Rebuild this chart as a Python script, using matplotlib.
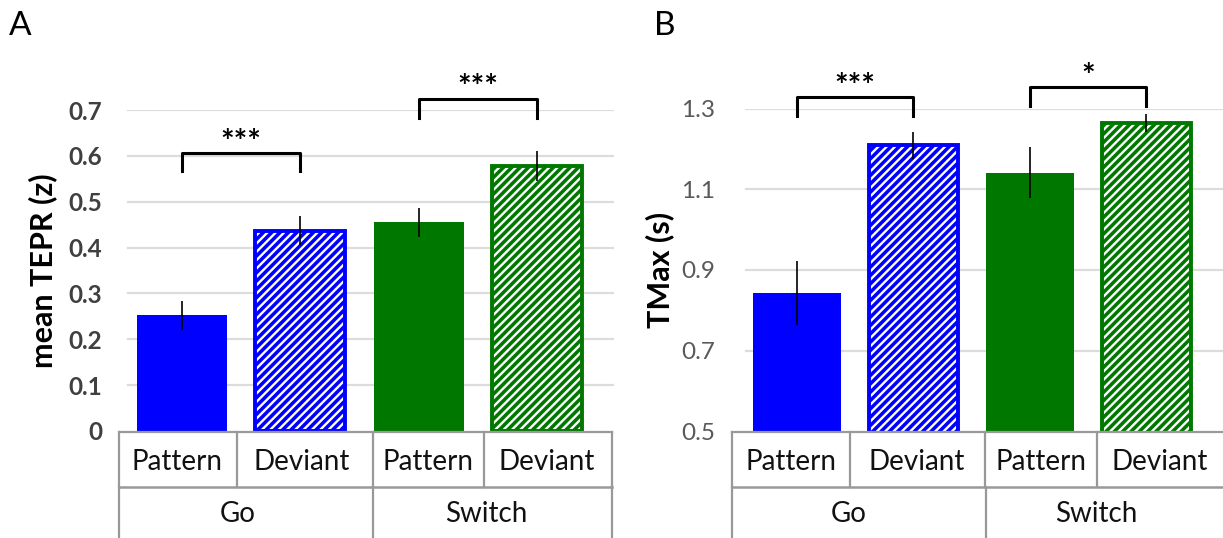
import numpy as np
import matplotlib
matplotlib.use('Agg')
import matplotlib.pyplot as plt

plt.rcParams['font.family'] = ['Lato', 'DejaVu Sans']
plt.rcParams['hatch.linewidth'] = 1.7
plt.rcParams['hatch.color'] = 'white'

# data
conditions = ['Pattern', 'Deviant', 'Pattern', 'Deviant']
groups = ['Go', 'Switch']
bar_colors = ['#0000ff', '#0000ff', '#007800', '#007800']
hatched = [False, True, False, True]

tepr_mean = [0.252, 0.437, 0.455, 0.578]
tepr_err = [0.032, 0.032, 0.031, 0.033]
tepr_ticks = [0, 0.1, 0.2, 0.3, 0.4, 0.5, 0.6, 0.7]
tepr_tick_labels = ['0', '0.1', '0.2', '0.3', '0.4', '0.5', '0.6', '0.7']
tepr_sig = [(0, 1, '***'), (2, 3, '***')]

tmax_mean = [0.843, 1.210, 1.142, 1.266]
tmax_err = [0.080, 0.033, 0.063, 0.022]
tmax_ticks = [0.5, 0.7, 0.9, 1.1, 1.3]
tmax_tick_labels = ['0.5', '0.7', '0.9', '1.1', '1.3']
tmax_sig = [(0, 1, '***'), (2, 3, '*')]

W, H = 1223, 538


def px_axes(fig, left, top, right, bottom):
    return fig.add_axes([left / W, 1 - bottom / H, (right - left) / W, (bottom - top) / H])


def bar_panel(ax, means, errs, xlim, ylim, ticks, tick_labels, ylabel,
              tick_color, tick_weight, grid_start, brackets):
    x = np.arange(len(means))
    ax.set_xlim(*xlim)
    ax.set_ylim(*ylim)
    for t in ticks[1:]:
        ax.axhline(t, xmin=grid_start, xmax=1, color='#dcdcdc', lw=1.6, zorder=0)
    bars = ax.bar(x, means, width=0.76, color=bar_colors, edgecolor='white',
                  linewidth=0, zorder=2)
    for b, h in zip(bars, hatched):
        if h:
            b.set_hatch('////')
    # outline of the hatched bars
    ax.bar(x[hatched], np.array(means)[hatched], width=0.76, fill=False,
           edgecolor=np.array(bar_colors)[hatched], linewidth=2.8, zorder=3)
    ax.errorbar(x, means, yerr=errs, fmt='none', ecolor='black',
                elinewidth=1.2, capsize=0, zorder=4)
    span = ylim[1] - ylim[0]
    for i0, i1, top, legs, stars in brackets:
        ax.plot([i0, i0, i1, i1], [legs, top, top, legs], color='black',
                lw=2.2, clip_on=False, zorder=5)
        ax.text((i0 + i1) / 2, top + span * 0.03, stars,
                ha='center', va='center', fontsize=23, fontweight='bold',
                clip_on=False)
    ax.set_yticks(ticks)
    ax.set_yticklabels(tick_labels, fontsize=17.5, color=tick_color,
                       fontweight=tick_weight)
    ax.tick_params(axis='y', length=0, pad=12)
    ax.set_xticks([])
    for s in ax.spines.values():
        s.set_visible(False)
    ax.set_ylabel(ylabel, fontsize=22, fontweight='bold', color='black')


def table(ov, cols, group_cols, text_x, group_x):
    gray = '#999999'
    top, mid, bottom = 432, 487, 545
    left, right = cols[0], cols[-1]
    ov.plot([left, right], [top, top], color=gray, lw=1.6)
    ov.plot([left, right], [mid, mid], color=gray, lw=1.8)
    for c in cols:
        ov.plot([c, c], [top, mid], color=gray, lw=1.6)
    for c in group_cols:
        ov.plot([c, c], [mid, bottom], color=gray, lw=1.6)
    for tx, lab in zip(text_x, conditions):
        ov.text(tx, 462, lab, ha='center', va='center', fontsize=20, color='#111111')
    for tx, lab in zip(group_x, groups):
        ov.text(tx, 514, lab, ha='center', va='center', fontsize=20, color='#111111')


fig = plt.figure(figsize=(W / 100, H / 100), dpi=100)

ax_a = px_axes(fig, 119, 110, 614, 431)
bar_panel(ax_a, tepr_mean, tepr_err, (-0.533, 3.652), (0, 0.7),
          tepr_ticks, tepr_tick_labels, 'mean TEPR (z)', '#404040', 'bold', 0.018,
          [(0, 1, 0.606, 0.566, tepr_sig[0][2]), (2, 3, 0.725, 0.682, tepr_sig[1][2])])
ax_a.yaxis.set_label_coords(-0.125, 0.5)

ax_b = px_axes(fig, 732, 109, 1223, 431)
bar_panel(ax_b, tmax_mean, tmax_err, (-0.558, 3.657), (0.5, 1.3),
          tmax_ticks, tmax_tick_labels, 'TMax (s)', '#595959', 'normal', 0.029,
          [(0, 1, 1.330, 1.283, tmax_sig[0][2]), (2, 3, 1.355, 1.308, tmax_sig[1][2])])
ax_b.yaxis.set_label_coords(-0.118, 0.5)

# overlay in pixel units for the category table and panel letters
ov = fig.add_axes([0, 0, 1, 1], zorder=10)
ov.set_xlim(0, W)
ov.set_ylim(H, 0)
ov.axis('off')
ov.patch.set_alpha(0)

table(ov, [119, 237, 373, 484, 612], [119, 373, 612],
      [177, 302, 428, 547], [238, 486])
table(ov, [732, 850, 985, 1097, 1230], [732, 986, 1230],
      [791, 917, 1041, 1160], [849, 1096])

ov.text(20, 26, 'A', ha='center', va='center', fontsize=24)
ov.text(665, 26, 'B', ha='center', va='center', fontsize=24)

fig.savefig('out.png', dpi=100)
